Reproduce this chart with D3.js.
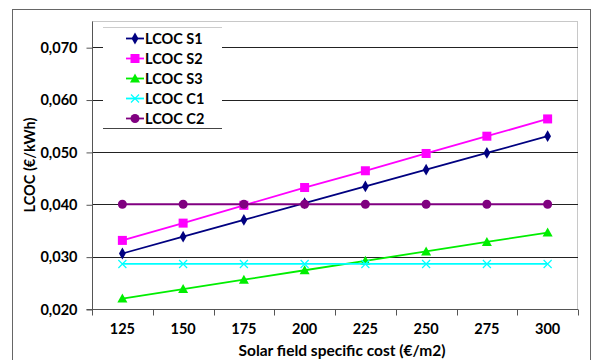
<!DOCTYPE html>
<html><head><meta charset="utf-8">
<script src="https://cdn.jsdelivr.net/npm/d3@7"></script>
<style>
html,body{margin:0;padding:0;background:#fff;}
text{font-family:Lato,"Open Sans",sans-serif;font-weight:bold;}
</style></head>
<body><svg id="c" width="594" height="360"></svg>
<script>
const categories = [125,150,175,200,225,250,275,300];
const s1 = [0.0306,0.0338,0.0370,0.0402,0.0434,0.0466,0.0498,0.0530];
const s2 = [0.0331,0.0364,0.0398,0.0432,0.0464,0.0497,0.0530,0.0563];
const s3 = [0.0220,0.0238,0.0256,0.0274,0.0292,0.0310,0.0328,0.0346];
const c1 = [0.0286,0.0286,0.0286,0.0286,0.0286,0.0286,0.0286,0.0286];
const c2 = [0.0400,0.0400,0.0400,0.0400,0.0400,0.0400,0.0400,0.0400];
const seriesNames = ["LCOC S1","LCOC S2","LCOC S3","LCOC C1","LCOC C2"];
const yTicks = [0.020,0.030,0.040,0.050,0.060,0.070];
const xTitle = "Solar field specific cost (€/m2)";
const yTitle = "LCOC (€/kWh)";

const series = [
  {name:seriesNames[0], values:s1, color:"#000080", marker:"diamond"},
  {name:seriesNames[1], values:s2, color:"#FF00FF", marker:"square"},
  {name:seriesNames[2], values:s3, color:"#00EE00", marker:"triangle"},
  {name:seriesNames[3], values:c1, color:"#00FFFF", marker:"x"},
  {name:seriesNames[4], values:c2, color:"#800080", marker:"circle"}
];

const svg = d3.select("#c");
const L=92, R=578, T=21, B=309;

// outer frame
svg.append("rect").attr("x",12.5).attr("y",9.5).attr("width",578).attr("height",360)
  .attr("fill","none").attr("stroke","#666").attr("stroke-width",1);

const x = d3.scaleBand().domain(categories).range([L,R]).padding(0);
const y = d3.scaleLinear().domain([0.020,0.075]).range([B,T]);

// plot border (light)
svg.append("rect").attr("x",L+0.5).attr("y",T+0.5).attr("width",R-L-1).attr("height",B-T)
  .attr("fill","none").attr("stroke","#c8c8c8");

// gridlines
svg.append("g").selectAll("line").data(yTicks.slice(1)).join("line")
  .attr("x1",L).attr("x2",R)
  .attr("y1",d=>Math.round(y(d))+0.5).attr("y2",d=>Math.round(y(d))+0.5)
  .attr("stroke","#222").attr("stroke-width",1);

// y axis
const yAxis = d3.axisLeft(y).tickValues(yTicks).tickSize(6).tickPadding(9)
  .tickFormat(d=>d3.format(".3f")(d).replace(".",","));
const gy = svg.append("g").attr("transform",`translate(${L+0.5},0.5)`).call(yAxis);
gy.select(".domain").attr("stroke","#555").attr("d",`M-6,${y(0.020)}H0V${T}`);
gy.selectAll(".tick line").attr("stroke","#555");
gy.selectAll(".tick text").attr("font-size",14.5).attr("fill","#000").style("font-family","Lato,sans-serif").style("font-weight","bold");

// x axis
const xAxis = d3.axisBottom(x).tickSize(0).tickPadding(14);
const gx = svg.append("g").attr("transform",`translate(0,${B+0.5})`).call(xAxis);
gx.select(".domain").attr("stroke","#555").attr("d",`M${L},0H${R}`);
gx.selectAll(".tick text").attr("font-size",14.5).attr("fill","#000").style("font-family","Lato,sans-serif").style("font-weight","bold");
// category boundary ticks
const bounds = categories.map(c=>x(c)).concat([R]);
gx.append("g").selectAll("line").data(bounds).join("line")
  .attr("x1",d=>Math.round(d)+0.5).attr("x2",d=>Math.round(d)+0.5)
  .attr("y1",0).attr("y2",6).attr("stroke","#555");

// titles
svg.append("text").attr("x",342).attr("y",356).attr("text-anchor","middle")
  .attr("font-size",15.5).text(xTitle);
svg.append("text").attr("transform","translate(35,165) rotate(-90)").attr("text-anchor","middle")
  .attr("font-size",14.5).text(yTitle);

function drawMarker(g, type, color, cx, cy){
  if(type==="diamond"){
    g.append("path").attr("d",d3.symbol(d3.symbolDiamond,40)()).attr("transform",`translate(${cx},${cy})`).attr("fill",color);
  } else if(type==="square"){
    g.append("rect").attr("x",cx-4.5).attr("y",cy-4.5).attr("width",9).attr("height",9).attr("fill",color);
  } else if(type==="triangle"){
    g.append("path").attr("d",`M${cx},${cy-5}L${cx+5},${cy+4}L${cx-5},${cy+4}Z`).attr("fill",color);
  } else if(type==="x"){
    g.append("path").attr("d",`M${cx-4},${cy-4}L${cx+4},${cy+4}M${cx-4},${cy+4}L${cx+4},${cy-4}`).attr("stroke",color).attr("stroke-width",1.2);
  } else if(type==="circle"){
    g.append("circle").attr("cx",cx).attr("cy",cy).attr("r",4.5).attr("fill",color);
  }
}

const cx = c=>x(c)+x.bandwidth()/2;
const line = d3.line().x((d,i)=>cx(categories[i])).y(d=>y(d));
series.forEach(s=>{
  const g = svg.append("g");
  g.append("path").datum(s.values).attr("d",line).attr("fill","none")
    .attr("stroke",s.color).attr("stroke-width",1.8);
  s.values.forEach((v,i)=>drawMarker(g,s.marker,s.color,cx(categories[i]),y(v)));
});

// legend
const lg = svg.append("g");
lg.append("rect").attr("x",103).attr("y",27).attr("width",119).attr("height",102).attr("fill","#fff");
lg.append("line").attr("x1",103).attr("x2",222).attr("y1",27.5).attr("y2",27.5).attr("stroke","#ccc");
lg.append("line").attr("x1",103).attr("x2",222).attr("y1",128.5).attr("y2",128.5).attr("stroke","#444");
series.forEach((s,i)=>{
  const yy = 38.5 + i*20;
  lg.append("line").attr("x1",126).attr("x2",144).attr("y1",yy).attr("y2",yy).attr("stroke",s.color).attr("stroke-width",1.8);
  drawMarker(lg,s.marker,s.color,135,yy);
  lg.append("text").attr("x",145).attr("y",yy+5).attr("font-size",14.5).text(s.name);
});
</script></body></html>
